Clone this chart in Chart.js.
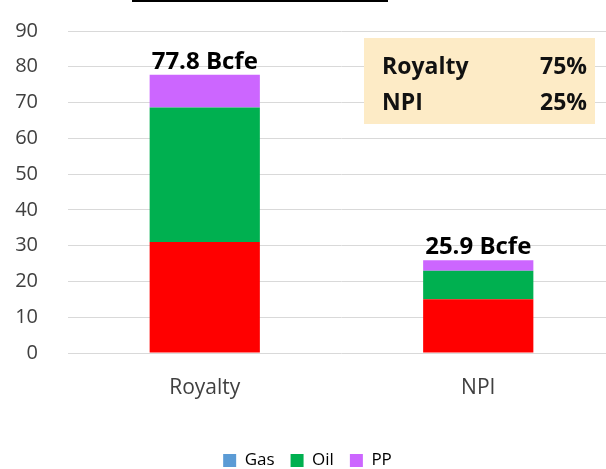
<!DOCTYPE html>
<html>
<head>
<meta charset="utf-8">
<script src="https://cdn.jsdelivr.net/npm/chart.js@4"></script>
<style>
  html, body { margin: 0; padding: 0; background: #fff; overflow: hidden; }
  #wrap { width: 615px; height: 469px; }
</style>
</head>
<body>
<div id="wrap"><canvas id="myChart"></canvas></div>
<script>
const labels = ['Royalty', 'NPI'];
const gas = [31, 15];
const oil = [37.6, 8];
const pp = [9.2, 2.9];
const totalLabels = ['77.8 Bcfe', '25.9 Bcfe'];
const yTicks = [0, 10, 20, 30, 40, 50, 60, 70, 80, 90];
const shareNames = ['Royalty', 'NPI'];
const shareValues = ['75%', '25%'];

const FONT = '"Open Sans", sans-serif';

// draws total labels, the share box and the cut-off title underline
const extras = {
  id: 'extras',
  afterDatasetsDraw(chart) {
    const ctx = chart.ctx;
    const top = chart.getDatasetMeta(2);
    ctx.save();
    ctx.fillStyle = '#000';
    ctx.font = 'bold 24px ' + FONT;
    ctx.textAlign = 'center';
    ctx.textBaseline = 'alphabetic';
    top.data.forEach((bar, i) => {
      ctx.fillText(totalLabels[i], bar.x, bar.y - 6);
    });

    // share box
    ctx.fillStyle = '#FDEBC6';
    ctx.fillRect(364, 38, 231, 86);
    ctx.fillStyle = '#111';
    ctx.font = 'bold 23px ' + FONT;
    shareNames.forEach((n, i) => {
      ctx.textAlign = 'left';
      ctx.fillText(n, 382, 74 + i * 36);
      ctx.textAlign = 'right';
      ctx.fillText(shareValues[i], 587, 74 + i * 36);
    });

    // title underline (title itself is cropped off)
    ctx.strokeStyle = '#000';
    ctx.lineWidth = 2;
    ctx.beginPath();
    ctx.moveTo(132, 1);
    ctx.lineTo(388, 1);
    ctx.stroke();
    ctx.restore();
  }
};

const data = {
  labels: labels,
  datasets: [
    { label: 'Gas', data: gas, backgroundColor: '#FF0000' },
    { label: 'Oil', data: oil, backgroundColor: '#00B050' },
    { label: 'PP', data: pp, backgroundColor: '#CC66FF' }
  ]
};

const legendColors = ['#5B9BD5', '#00B050', '#CC66FF'];

const config = {
  type: 'bar',
  data: data,
  options: {
    responsive: true,
    maintainAspectRatio: false,
    animation: false,
    datasets: { bar: { categoryPercentage: 1, barPercentage: 0.403 } },
    layout: { padding: { top: 31, left: 0, right: 0, bottom: -10 } },
    plugins: {
      tooltip: { enabled: false },
      legend: {
        position: 'bottom',
        labels: {
          boxWidth: 13,
          boxHeight: 13,
          padding: 16,
          color: '#404040',
          font: { family: FONT, size: 17 },
          generateLabels(chart) {
            return chart.data.datasets.map((ds, i) => ({
              text: ds.label,
              fillStyle: legendColors[i],
              strokeStyle: legendColors[i],
              lineWidth: 0,
              datasetIndex: i
            }));
          }
        }
      }
    },
    scales: {
      x: {
        stacked: true,
        grid: { display: false },
        border: { display: false },
        ticks: { color: '#404040', font: { family: FONT, size: 21 }, padding: 14 },
        afterFit(scale) { scale.height = 83; }
      },
      y: {
        stacked: true,
        min: 0,
        max: 90,
        afterBuildTicks(scale) { scale.ticks = yTicks.map(v => ({ value: v })); },
        grid: { color: '#D9D9D9', drawTicks: false },
        border: { display: false },
        ticks: { color: '#404040', font: { family: FONT, size: 20 }, padding: 30 },
        afterFit(scale) {
          scale.width = 68;
          scale.paddingTop = 0;
          scale.paddingBottom = 0;
        }
      }
    }
  },
  plugins: [extras]
};

var myChart = new Chart(document.getElementById('myChart'), config);
</script>
</body>
</html>
